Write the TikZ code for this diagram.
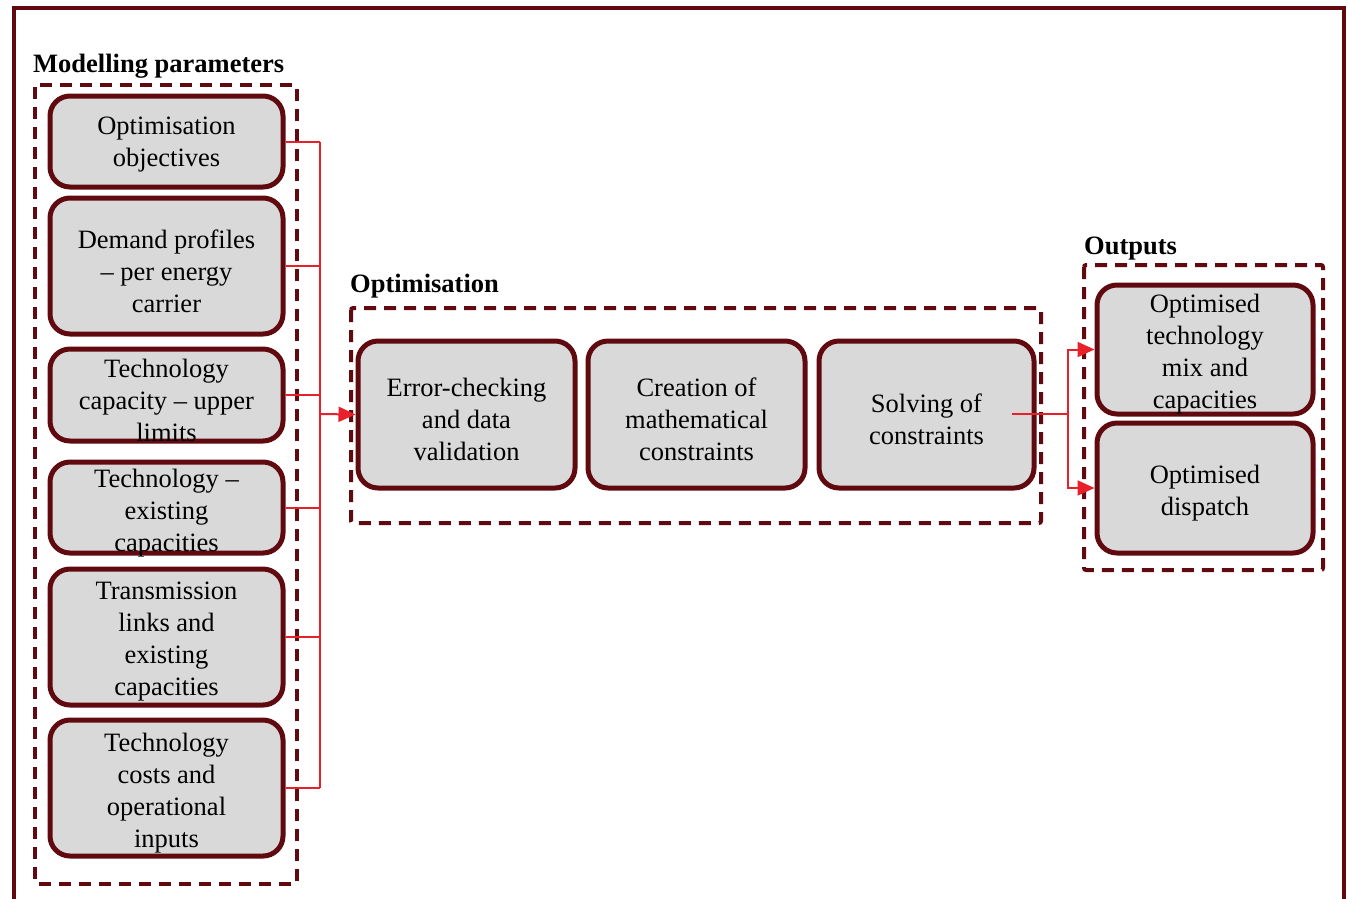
\documentclass[tikz,border=0pt]{standalone}
\usepackage{fontspec}
\setmainfont{Liberation Serif}
\usetikzlibrary{arrows.meta}
\definecolor{maroon}{HTML}{600A10}
\definecolor{lred}{HTML}{E8202A}
\definecolor{boxgray}{HTML}{D9D9D9}
\tikzset{
  pbox/.style={draw=maroon, line width=5pt, fill=boxgray, rounded corners=20pt, inner sep=0pt, minimum width=233pt},
  ptext/.style={align=center, inner sep=0pt, yshift=-3pt, font=\fontsize{26.5}{32}\selectfont},
  grp/.style={draw=maroon, line width=4pt, dash pattern=on 12pt off 8pt, rounded corners=2pt},
  ttl/.style={anchor=west, inner sep=0pt, yshift=-3pt, font=\fontsize{26.5}{32}\selectfont\bfseries},
  conn/.style={draw=lred, line width=2pt},
  arr/.style={conn, -{Triangle[length=17pt,width=15pt]}}
}
\begin{document}
\begin{tikzpicture}[x=1pt,y=-1pt]
\useasboundingbox (0,0) rectangle (1348,898);
% outer frame
\draw[maroon, line width=4pt] (14,899) -- (14,8) -- (1344,8) -- (1344,899);
% group boxes
\draw[grp] (35,85) rectangle (297,884);
\draw[grp] (351,308) rectangle (1041,523);
\draw[grp] (1084,265) rectangle (1323,570);
% titles
\node[ttl] (t1) at (33,63) {Modelling parameters};
\node[ttl] (t2) at (350,283) {Optimisation};
\node[ttl] (t3) at (1084,246) {Outputs};
% left boxes
\node[pbox, minimum height=91pt] (b1) at (166.5,141.5) {};
\node[ptext] at (b1) {Optimisation\\objectives};
\node[pbox, minimum height=136pt] (b2) at (166.5,266) {};
\node[ptext] at (166.5,268) {Demand profiles\\– per energy\\carrier};
\node[pbox, minimum height=92pt] (b3) at (166.5,395) {};
\node[ptext] at (166.5,397) {Technology\\capacity – upper\\limits};
\node[pbox, minimum height=91pt] (b4) at (166.5,507.5) {};
\node[ptext] at (166.5,510) {Technology –\\existing\\capacities};
\node[pbox, minimum height=136pt] (b5) at (166.5,637) {};
\node[ptext] at (166.5,639) {Transmission\\links and\\existing\\capacities};
\node[pbox, minimum height=136pt] (b6) at (166.5,788) {};
\node[ptext] at (166.5,790) {Technology\\costs and\\operational\\inputs};
% optimisation boxes
\node[pbox, minimum width=217pt, minimum height=147pt] (e) at (466.5,414.5) {};
\node[ptext] at (466.5,416) {Error-checking\\and data\\validation};
\node[pbox, minimum width=217pt, minimum height=147pt] (c) at (696.5,414.5) {};
\node[ptext] at (696.5,416) {Creation of\\mathematical\\constraints};
\node[pbox, minimum width=215pt, minimum height=147pt] (s) at (926.5,414.5) {};
\node[ptext] at (926.5,416) {Solving of\\constraints};
% output boxes
\node[pbox, minimum width=216pt, minimum height=129pt] (o1) at (1205,349.5) {};
\node[ptext] at (1205,351) {Optimised\\technology\\mix and\\capacities};
\node[pbox, minimum width=216pt, minimum height=130pt] (o2) at (1205,488) {};
\node[ptext] at (1205,490) {Optimised\\dispatch};
% input connectors
\coordinate (bus) at (320,414);
\foreach \b in {b1,b2,b3,b4,b5,b6}{
  \draw[conn] (\b.east) -- (\b.east -| bus);
}
\draw[conn] (b1.east -| bus) -- (b6.east -| bus);
\draw[arr] (bus) -- (e.west);
% output connectors
\coordinate (sstart) at (1012,414);
\coordinate (oj) at (1068,414);
\draw[conn, line width=2.5pt] (sstart) -- (oj);
\draw[arr] (oj) |- (o1.west);
\draw[arr] (oj) |- (o2.west);
\end{tikzpicture}
\end{document}
